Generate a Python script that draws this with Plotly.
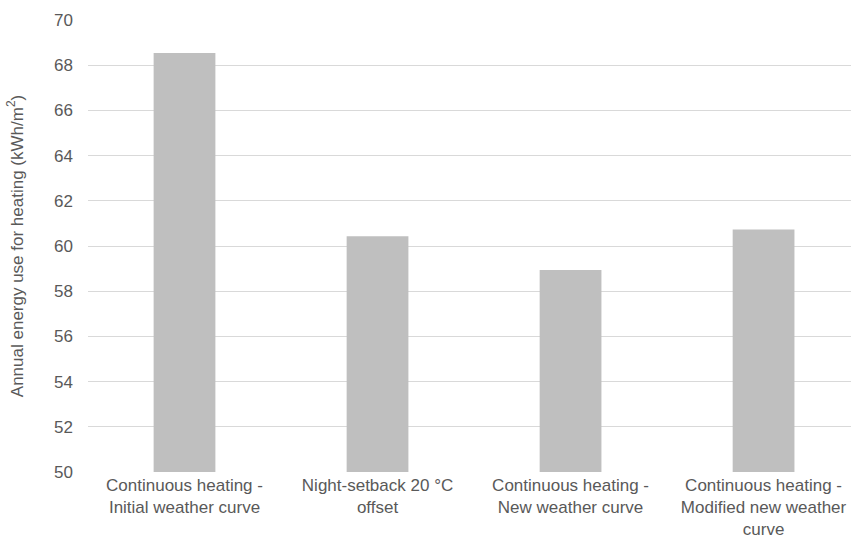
import plotly.graph_objects as go

categories = [
    "Continuous heating -<br>Initial weather curve",
    "Night-setback 20 °C<br>offset",
    "Continuous heating -<br>New weather curve",
    "Continuous heating -<br>Modified new weather<br>curve",
]
values = [68.54, 60.43, 58.94, 60.73]
y_ticks = [50, 52, 54, 56, 58, 60, 62, 64, 66, 68, 70]

fig = go.Figure(go.Bar(
    x=list(range(len(categories))), y=values,
    marker=dict(color="#BFBFBF", line=dict(width=0)),
    width=0.32,
))

fig.update_layout(
    width=851, height=538,
    margin=dict(l=88, r=0, t=20, b=66, autoexpand=False),
    plot_bgcolor="white", paper_bgcolor="white",
    font=dict(family="Liberation Sans, Arial, sans-serif", size=17, color="#595959"),
    showlegend=False,
    xaxis=dict(
        tickmode="array", tickvals=list(range(len(categories))), ticktext=categories,
        range=[-0.5, 3.453], showgrid=False, showline=False, zeroline=False,
        tickfont=dict(size=17, color="#595959"), automargin=False,
        ticklabelstandoff=1,
    ),
    yaxis=dict(
        range=[50, 70], tickvals=y_ticks, showgrid=True, gridcolor="#D9D9D9", gridwidth=1,
        zeroline=False, showline=False, ticklabelstandoff=14, automargin=False,
        tickfont=dict(size=17, color="#595959"),
        title=dict(text="Annual energy use for heating (kWh/m<sup>2</sup>)",
                   font=dict(size=17, color="#595959"), standoff=26),
    ),
)

fig.write_html("out.html", config={"displayModeBar": False},
               post_script="document.body.style.margin='0';")
